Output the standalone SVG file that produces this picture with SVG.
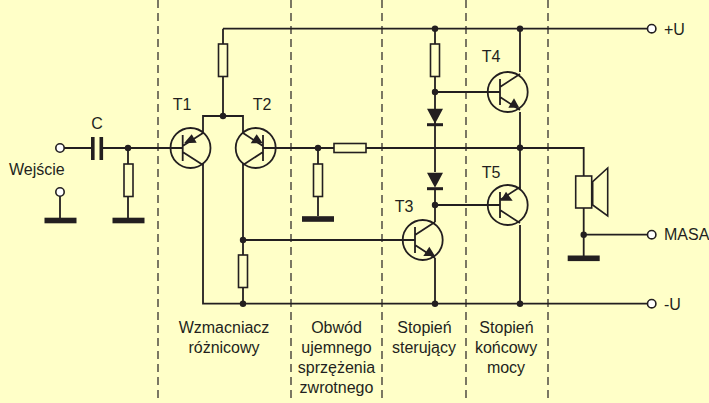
<svg xmlns="http://www.w3.org/2000/svg" width="709" height="403" viewBox="0 0 709 403">
<style>
.w{fill:none;stroke:#231f20;stroke-width:1.8}
.d{fill:none;stroke:#231f20;stroke-width:1.2;stroke-dasharray:8 5}
.r{fill:#ffffc8;stroke:#231f20;stroke-width:1.6}
.t{fill:#ffffc8;stroke:#231f20;stroke-width:1.6}
.k{fill:#231f20}
text{font-family:"Liberation Sans",Arial,sans-serif;font-size:16px;fill:#231f20}
.c{text-anchor:middle}
</style>
<defs>
<circle id="dot" r="3.2" class="k"/>
<circle id="term" r="4.2" fill="#fff" stroke="#231f20" stroke-width="1.6"/>
<rect id="res" x="-4.5" y="0" width="9" height="32.5" class="r"/>
<rect id="gnd" x="-16" y="-2.8" width="32" height="5.6" class="k"/>
<g id="diode"><path d="M-8 0H8L0 15Z" class="k"/><rect x="-8" y="14.5" width="16" height="3" class="k"/></g>
</defs>
<rect width="709" height="403" fill="#ffffc8"/>
<g id="dividers">
<path class="d" d="M158 0V403M291 0V403M382 0V403M466 0V403M548 0V403"/>
</g>
<g id="connectors">
<path class="w" d="M223 28.7H648M223 28.7V116M203 133V116H243V133M64 148H92M102 148H170M276 148H583.7V176M435 28.7V172M435 188V222M520 28.7V72M520 112V189M520 225V303.7M435 92H488M435 205H488M243 163V303.7M243 240H403M203 163V303.7H648M435 258V303.7M583.7 208V256M583.7 234.7H648M128 148V218M318 148V216M60 196V218"/>
<use href="#dot" x="128" y="148"/><use href="#dot" x="223" y="116"/><use href="#dot" x="318" y="148"/>
<use href="#dot" x="435" y="28.7"/><use href="#dot" x="520" y="28.7"/><use href="#dot" x="435" y="92"/>
<use href="#dot" x="520" y="147.7"/><use href="#dot" x="435" y="205"/><use href="#dot" x="243" y="240"/>
<use href="#dot" x="243" y="303.7"/><use href="#dot" x="435" y="303.7"/><use href="#dot" x="520" y="303.7"/>
<use href="#dot" x="583.7" y="234.7"/>
</g>
<g id="input-a"><use href="#term" x="60" y="148"/></g>
<g id="input-b"><use href="#term" x="60" y="192"/><use href="#gnd" x="60.5" y="220.5"/></g>
<g id="label-wejscie"><text x="9" y="175">Wejście</text></g>
<g id="C"><rect x="91" y="137" width="3.6" height="23" class="k"/><rect x="99.5" y="137" width="3.6" height="23" class="k"/><text x="97" y="129" class="c">C</text></g>
<g id="R1"><use href="#res" x="128.5" y="164"/><use href="#gnd" x="128.5" y="220.5"/></g>
<g id="R2"><use href="#res" x="223" y="44"/></g>
<g id="R3"><use href="#res" x="243" y="255"/></g>
<g id="R4"><rect x="334" y="143.5" width="32" height="9" class="r"/></g>
<g id="R5"><use href="#res" x="318" y="164"/><use href="#gnd" x="318" y="219"/></g>
<g id="R6"><use href="#res" x="435" y="44"/></g>
<g id="D1"><use href="#diode" x="435" y="108.7"/></g>
<g id="D2"><use href="#diode" x="435" y="172.7"/></g>
<g id="T1">
<circle cx="190.5" cy="148" r="20" class="w"/>
<path class="w" d="M170 148H182.7M182.7 135V161M182.7 152L203 165M182.7 146L203 133"/>
<path class="k" d="M191.7 134.3L184 143.3L196.7 142.7Z"/>
<text x="182" y="110" class="c">T1</text>
</g>
<g id="T2">
<circle cx="255.7" cy="148" r="20" class="w"/>
<path class="w" d="M276 148H263M263 135V161M263 152L243 165M263 146L243 133"/>
<path class="k" d="M256.7 134.3L250.7 143.3L262.7 143.3Z"/>
<text x="262" y="110" class="c">T2</text>
</g>
<g id="T3">
<circle cx="422.7" cy="240" r="20" class="w"/>
<path class="w" d="M403 240H415M415 227V253M415 235L435 222M415 245L435 258"/>
<path class="k" d="M429.3 246.7L423.3 256L435 256Z"/>
<text x="404" y="212" class="c">T3</text>
</g>
<g id="T4">
<circle cx="507.7" cy="92" r="20" class="w"/>
<path class="w" d="M488 92H500M500 79V105M500 87L520 74M500 97L520 110"/>
<path class="k" d="M514 98.3L508.3 107.7L519.3 107.7Z"/>
<text x="491" y="62" class="c">T4</text>
</g>
<g id="T5">
<circle cx="507.7" cy="205" r="20" class="w"/>
<path class="w" d="M488 205H500M500 192V218M500 210L520 223M500 200L520 187"/>
<path class="k" d="M500.7 200.7L512.7 200.7L506 191.7Z"/>
<text x="491" y="178" class="c">T5</text>
</g>
<g id="speaker"><rect x="575.7" y="176" width="16" height="32" class="r"/><path class="t" d="M592.7 181.7L607.7 168V216L592.7 205Z"/></g>
<g id="gnd-speaker"><use href="#gnd" x="583.7" y="258.3"/></g>
<g id="term-U"><use href="#term" x="651.7" y="28.7"/><text x="664" y="34.5">+U</text></g>
<g id="term-MASA"><use href="#term" x="651.7" y="234.7"/><text x="664" y="240">MASA</text></g>
<g id="term-minusU"><use href="#term" x="651.7" y="303.7"/><text x="664" y="309.5">-U</text></g>
<g id="labels">
<text class="c" x="224" y="333">Wzmacniacz</text><text class="c" x="224" y="353">różnicowy</text>
<text class="c" x="336.5" y="333">Obwód</text><text class="c" x="336.5" y="353">ujemnego</text><text class="c" x="336.5" y="373">sprzężenia</text><text class="c" x="336.5" y="393">zwrotnego</text>
<text class="c" x="424.5" y="333">Stopień</text><text class="c" x="424" y="353">sterujący</text>
<text class="c" x="506.5" y="333">Stopień</text><text class="c" x="506" y="353">końcowy</text><text class="c" x="506" y="373">mocy</text>
</g>
</svg>
